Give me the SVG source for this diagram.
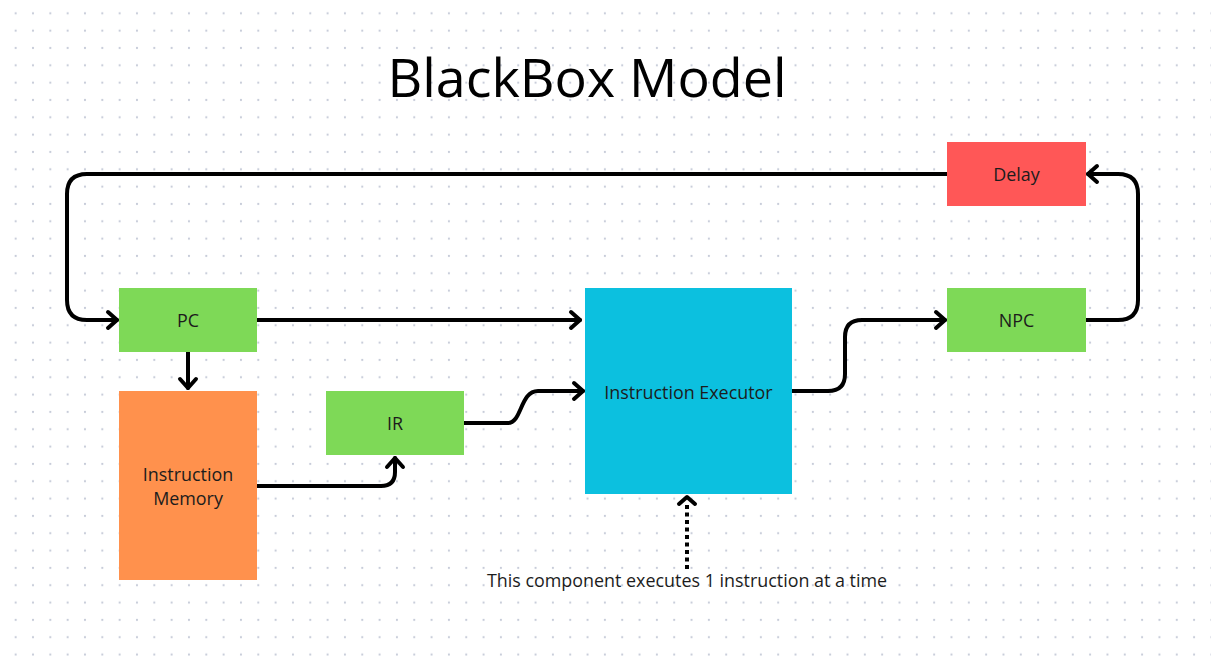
<svg xmlns="http://www.w3.org/2000/svg" width="1211" height="656" viewBox="0 0 1211 656">
<style>
.lbl{font-family:"Open Sans","Liberation Sans",sans-serif;font-size:17.9px;fill:#1c1c1c;text-anchor:middle;dominant-baseline:central}
.conn{fill:none;stroke:#000;stroke-width:4;stroke-linecap:round;stroke-linejoin:round}
</style>
<defs>
<pattern id="dots" patternUnits="userSpaceOnUse" x="7" y="4.7" width="17.33" height="17.33">
<circle cx="8.67" cy="8.67" r="1.1" fill="#c6cbd8"/>
</pattern>
<marker id="ah" markerUnits="userSpaceOnUse" viewBox="-14 -12 18 24" markerWidth="18" markerHeight="24" refX="0" refY="0" orient="auto" overflow="visible">
<path d="M-9,-8 L0,0 L-9,8" fill="none" stroke="#000" stroke-width="4" stroke-linecap="round" stroke-linejoin="round"/>
</marker>
</defs>
<rect width="1211" height="656" fill="#fff"/>
<rect width="1211" height="656" fill="url(#dots)"/>
<text x="587" y="97" font-family="Open Sans,Liberation Sans,sans-serif" font-size="53.8" fill="#000" text-anchor="middle">BlackBox Model</text>
<g id="connectors">
<path class="conn" marker-end="url(#ah)" d="M947,174 H87 Q67,174 67,194 V300 Q67,320 87,320 H117"/>
<path class="conn" marker-end="url(#ah)" d="M257,320 H580"/>
<path class="conn" marker-end="url(#ah)" d="M188,352 V388"/>
<path class="conn" marker-end="url(#ah)" d="M257,486 H381 Q395,486 395,472 V458"/>
<path class="conn" marker-end="url(#ah)" d="M464,423 H508 C522,423 520,391 538,391 H583"/>
<path class="conn" marker-end="url(#ah)" d="M792,391 H828 Q845,391 845,374 V337 Q845,320 862,320 H945"/>
<path class="conn" marker-end="url(#ah)" d="M1086,320 H1118 Q1138,320 1138,300 V194 Q1138,174 1118,174 H1088"/>
<path fill="none" stroke="#000" stroke-width="4" stroke-dasharray="4 3.5" d="M687,569 V502"/>
<path fill="none" stroke="#000" stroke-width="4" stroke-linecap="round" stroke-linejoin="round" d="M679,504 L687,497 L695,504"/>
</g>
<g id="pc"><rect x="119" y="288" width="138" height="64" fill="#7ed957"/><text class="lbl" x="188" y="320">PC</text></g>
<g id="imem"><rect x="119" y="391" width="138" height="189" fill="#ff914d"/><text class="lbl" x="188" y="474">Instruction</text><text class="lbl" x="188" y="498">Memory</text></g>
<g id="ir"><rect x="326" y="391" width="138" height="64" fill="#7ed957"/><text class="lbl" x="395" y="423">IR</text></g>
<g id="exec"><rect x="585" y="288" width="207" height="206" fill="#0cc0df"/><text class="lbl" x="688.5" y="392">Instruction Executor</text></g>
<g id="npc"><rect x="947" y="288" width="139" height="64" fill="#7ed957"/><text class="lbl" x="1016.5" y="320">NPC</text></g>
<g id="delay"><rect x="947" y="142" width="139" height="64" fill="#ff5757"/><text class="lbl" x="1016.5" y="174">Delay</text></g>
<g id="note"><text class="lbl" x="687" y="580">This component executes 1 instruction at a time</text></g>
</svg>
